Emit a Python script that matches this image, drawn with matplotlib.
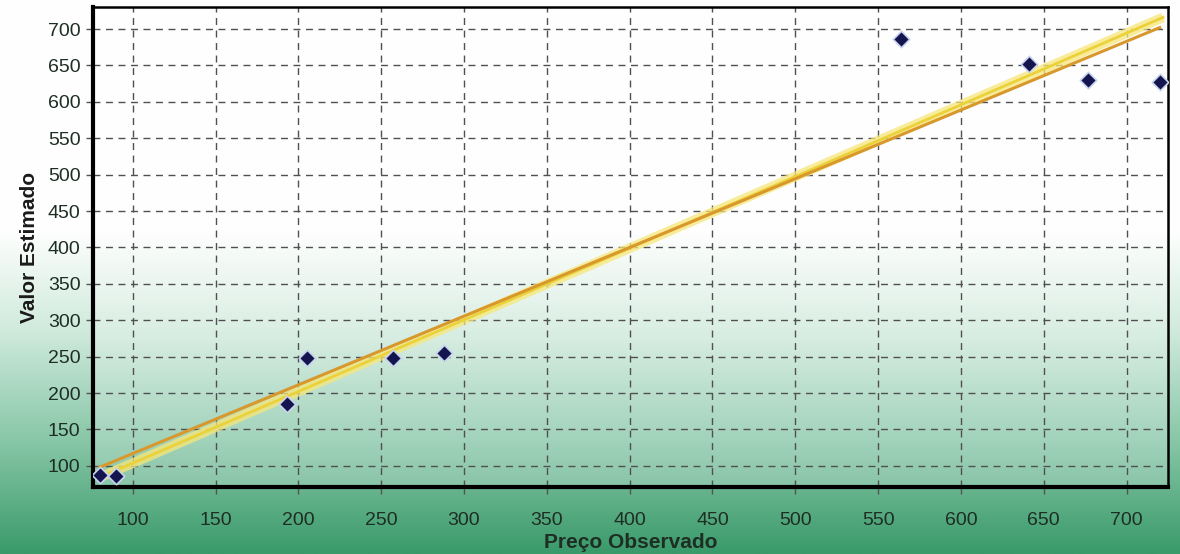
import numpy as np
import matplotlib
matplotlib.use("Agg")
import matplotlib.pyplot as plt
from matplotlib.colors import LinearSegmentedColormap

plt.rcParams['font.family'] = ['Liberation Sans', 'DejaVu Sans']

# observed price vs estimated value
observado = [80, 90, 193, 205, 257, 288, 564, 641, 677, 720]
estimado = [88, 86, 185, 248, 248, 255, 686, 652, 630, 627]

# reference line (estimated = observed) and fitted line endpoints
ref_x = [80, 722]
ref_y = [84, 716]
fit_x = [80, 720]
fit_y = [98, 702]

xticks = [100, 150, 200, 250, 300, 350, 400, 450, 500, 550, 600, 650, 700]
yticks = [100, 150, 200, 250, 300, 350, 400, 450, 500, 550, 600, 650, 700]

fig = plt.figure(figsize=(11.8, 5.54), dpi=100)

# background gradient: white on top, green at the bottom
bg = fig.add_axes([0, 0, 1, 1], zorder=0)
cmap = LinearSegmentedColormap.from_list(
    "bg", [(0.0, "#ffffff"), (0.42, "#fdfefd"), (0.6, "#cfeadc"),
           (0.8, "#86c6a6"), (1.0, "#3a9a6a")])
grad = np.linspace(0, 1, 256).reshape(-1, 1)
bg.imshow(grad, aspect="auto", cmap=cmap, extent=[0, 1, 0, 1], origin="upper")
bg.axis("off")

ax = fig.add_axes([0.0788, 0.121, 0.911, 0.866], zorder=1)
ax.patch.set_facecolor("white")
ax.patch.set_alpha(0.22)

ax.plot(ref_x, ref_y, color="#f7e77a", lw=7, alpha=0.75, solid_capstyle="butt", zorder=2)
ax.plot(ref_x, ref_y, color="#ecd23a", lw=2, zorder=3)
ax.plot(fit_x, fit_y, color="#d8982c", lw=2.2, zorder=4)

ax.scatter(observado, estimado, marker="D", s=70, color="#14144e",
           edgecolors="#c9d4ee", linewidths=1.2, zorder=5)

ax.set_xlim(76, 725)
ax.set_ylim(71, 730)
ax.set_xticks(xticks)
ax.set_yticks(yticks)
ax.grid(True, linestyle=(0, (5, 4)), color="#505050", lw=1)
ax.tick_params(axis="both", labelsize=14, colors="#555555", length=5,
               width=1, direction="out", labelcolor="#1e2e24")
ax.tick_params(axis="x", pad=13)
ax.tick_params(axis="y", pad=4)

for side in ["left", "bottom"]:
    ax.spines[side].set_linewidth(3)
for side in ["top", "right"]:
    ax.spines[side].set_linewidth(1.8)

ax.set_xlabel("Preço Observado", fontsize=15, fontweight="bold", color="#1e2e24", labelpad=3)
ax.set_ylabel("Valor Estimado", fontsize=15, fontweight="bold", color="#1a1a1a", labelpad=6)

fig.savefig("out.png", dpi=100)
